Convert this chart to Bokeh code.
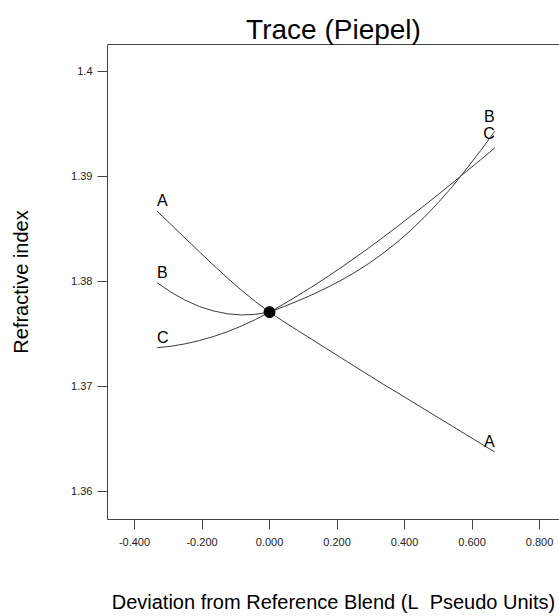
from bokeh.plotting import figure
from bokeh.models import FixedTicker, ColumnDataSource, LinearAxis
from bokeh.embed import file_html
from bokeh.resources import INLINE
from bokeh.core.properties import value

# ---- data ----
deviation = [-0.333, -0.292, -0.25, -0.208, -0.167, -0.125, -0.083, -0.042, 0.0,
             0.042, 0.083, 0.125, 0.167, 0.208, 0.25, 0.292, 0.333, 0.375, 0.417,
             0.458, 0.5, 0.542, 0.583, 0.625, 0.667]
trace_A = [1.38670, 1.38543, 1.38413, 1.38283, 1.38158, 1.38034, 1.37916, 1.37809, 1.37708,
           1.37618, 1.37534, 1.37449, 1.37364, 1.37281, 1.37196, 1.37112, 1.37029, 1.36948, 1.36866,
           1.36785, 1.36703, 1.36621, 1.36540, 1.36458, 1.36376]
trace_B = [1.37988, 1.37898, 1.37822, 1.37762, 1.37720, 1.37692, 1.37681, 1.37687, 1.37708,
           1.37760, 1.37814, 1.37872, 1.37936, 1.38004, 1.38081, 1.38167, 1.38260, 1.38366, 1.38483,
           1.38610, 1.38752, 1.38905, 1.39070, 1.39245, 1.39430]
trace_C = [1.37369, 1.37383, 1.37406, 1.37437, 1.37475, 1.37521, 1.37576, 1.37637, 1.37708,
           1.37785, 1.37864, 1.37948, 1.38035, 1.38124, 1.38218, 1.38315, 1.38412, 1.38514, 1.38618,
           1.38722, 1.38829, 1.38939, 1.39047, 1.39158, 1.39271]
components = ["A", "B", "C"]
reference_x = [0.0]
reference_y = [1.37708]

x_ticks = [-0.4, -0.2, 0.0, 0.2, 0.4, 0.6, 0.8]
x_tick_labels = ["-0.400", "-0.200", "0.000", "0.200", "0.400", "0.600", "0.800"]
y_ticks = [1.36, 1.37, 1.38, 1.39, 1.40]
y_tick_labels = ["1.36", "1.37", "1.38", "1.39", "1.4"]

FONT = "Liberation Sans"
AXIS_COLOR = "#444444"

p = figure(width=559, height=616, output_backend="svg", toolbar_location=None,
           x_range=(-0.48, 0.859), y_range=(1.35733, 1.40257),
           title="Trace (Piepel)",
           min_border_left=107, min_border_right=0, min_border_top=44, min_border_bottom=97)

p.title.align = "center"
p.title.text_font = FONT
p.title.text_font_size = "28px"
p.title.text_font_style = "normal"
p.title.text_color = "black"
p.title.offset = 0
p.title.standoff = 0

p.xgrid.visible = False
p.ygrid.visible = False
p.outline_line_color = None

xax = p.below[0]
yax = p.left[0]

for ax in (xax, yax):
    ax.axis_line_color = AXIS_COLOR
    ax.major_tick_line_color = AXIS_COLOR
    ax.major_tick_in = 0
    ax.major_tick_out = 10
    ax.minor_tick_line_color = None
    ax.major_label_text_font = FONT
    ax.major_label_text_font_size = "11px"
    ax.major_label_text_color = "#222222"
    ax.axis_label_text_font = FONT
    ax.axis_label_text_font_size = "20px"
    ax.axis_label_text_font_style = "normal"
    ax.axis_label_text_color = "black"

xax.ticker = FixedTicker(ticks=x_ticks)
xax.major_label_overrides = dict(zip(x_ticks, x_tick_labels))
xax.major_label_standoff = 8
xax.axis_label = "Deviation from Reference Blend (L\u00a0\u00a0Pseudo Units)"
xax.axis_label_standoff = 42

yax.ticker = FixedTicker(ticks=y_ticks)
yax.major_label_overrides = dict(zip(y_ticks, y_tick_labels))
yax.major_label_standoff = 5
yax.axis_label = "Refractive index"
yax.axis_label_standoff = 36

# top border line only (right side lies beyond the window in the reference)
top = LinearAxis(ticker=FixedTicker(ticks=[]), axis_line_color=AXIS_COLOR,
                 major_tick_line_color=None, minor_tick_line_color=None,
                 major_label_text_font_size="0px", major_tick_out=0, major_tick_in=0,
                 major_label_standoff=0, axis_label=None)
p.add_layout(top, "above")

series = [trace_A, trace_B, trace_C]
for ys in series:
    p.line(deviation, ys, line_color="#3a3a3a", line_width=1)

p.scatter(reference_x, reference_y, size=11, marker="circle", color="black")

start_src = ColumnDataSource(dict(x=[deviation[0]] * 3, y=[s[0] for s in series], t=components))
end_src = ColumnDataSource(dict(x=[deviation[-1]] * 3, y=[s[-1] for s in series], t=components,
                                dy=[-2, -6, -6]))
p.text(x="x", y="y", text="t", source=start_src, text_align="left", text_baseline="bottom",
       y_offset=-2, text_font=value(FONT), text_font_size="16px", text_color="black")
p.text(x="x", y="y", text="t", source=end_src, text_align="right", text_baseline="bottom",
       y_offset="dy", text_font=value(FONT), text_font_size="16px", text_color="black")

open("out.html", "w").write(file_html(p, INLINE))
